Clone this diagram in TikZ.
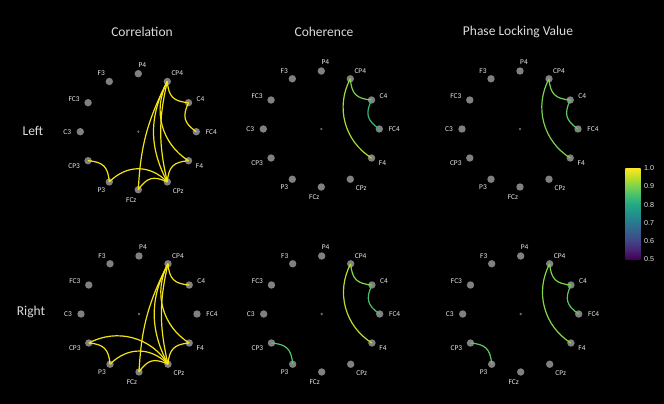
\documentclass[tikz,border=0pt]{standalone}
\usepackage{fontspec}
\setmainfont{Carlito}
\newfontfamily\tickfont{Liberation Sans}
\usetikzlibrary{calc}
\definecolor{vA}{HTML}{440154}
\definecolor{vB}{HTML}{482475}
\definecolor{vC}{HTML}{414487}
\definecolor{vD}{HTML}{355F8D}
\definecolor{vE}{HTML}{2A788E}
\definecolor{vF}{HTML}{21918C}
\definecolor{vG}{HTML}{22A884}
\definecolor{vH}{HTML}{44BF70}
\definecolor{vI}{HTML}{7AD151}
\definecolor{vJ}{HTML}{BDDF26}
\definecolor{vK}{HTML}{FDE725}
\definecolor{corrcol}{RGB}{245,228,20}
\definecolor{dotgray}{HTML}{808080}
\definecolor{txtgray}{HTML}{E6E6E6}
\pgfdeclareverticalshading{viridis}{100bp}{color(0bp)=(vA); color(25bp)=(vA); color(30bp)=(vB); color(35bp)=(vC); color(40bp)=(vD); color(45bp)=(vE); color(50bp)=(vF); color(55bp)=(vG); color(60bp)=(vH); color(65bp)=(vI); color(70bp)=(vJ); color(75bp)=(vK); color(100bp)=(vK)}
\tikzset{
  edot/.style={circle, fill=dotgray, inner sep=0pt, minimum size=7.4pt},
  cdot/.style={circle, fill=dotgray!120, inner sep=0pt, minimum size=2.6pt},
  lbl/.style={text=txtgray, font=\fontsize{7.4}{8}\selectfont, inner sep=0pt},
  ttl/.style={text=txtgray!95!black, font=\fontsize{13.5}{15}\selectfont, inner sep=0pt},
  tick/.style={text=txtgray, font=\tickfont\fontsize{7.2}{8}\selectfont, inner sep=0pt, anchor=west},
  edge/.style={line width=1.2pt},
  corr/.style={edge, draw=corrcol},
  s30/.style={bend right=40, looseness=1.3},
  s60/.style={bend right=45, looseness=1.1},
  s90/.style={bend right=43},
  s120/.style={bend right=28},
  s120b/.style={bend right=13},
  s150/.style={bend right=12},
}
\newcommand{\eegpanel}[3]{%
  \node[cdot] (#1-O) at (#2,#3) {};
  \foreach \nm/\ang/\dx/\dy in {P4/90/4/-9, CP4/60/10/-8, C4/30/12/-4, FC4/0/15/0, F4/-30/11/5, CPz/-60/11/9, FCz/-90/-7/10, P3/-120/-8/8, CP3/-150/-14/5, C3/180/-13/0, FC3/150/-14/-4, F3/120/-8/-8}{%
    \node[edot] (#1-\nm) at ({#2+58*cos(\ang)},{#3-58*sin(\ang)}) {};
    \node[lbl] (#1-\nm-l) at ({#2+58*cos(\ang)+\dx},{#3-58*sin(\ang)+\dy}) {\nm};
  }%
}
\begin{document}
\begin{tikzpicture}[x=1pt,y=-1pt]
\fill[black] (0,0) rectangle (664,404);
\useasboundingbox (0,0) rectangle (664,404);
% titles
\node[ttl] (t1) at (142,32) {Correlation};
\node[ttl] (t2) at (324,32) {Coherence};
\node[ttl] (t3) at (518,32) {Phase Locking Value};
\node[ttl] (rL) at (33,131) {Left};
\node[ttl] (rR) at (31,312) {Right};
% panels
\eegpanel{TL}{138.3}{131.7}
\eegpanel{TM}{321.3}{129}
\eegpanel{TR}{520}{129}
\eegpanel{BL}{139}{314}
\eegpanel{BM}{321.7}{314}
\eegpanel{BR}{520.7}{314}
% correlation left
\draw[corr,s30] (TL-CP4.center) to (TL-C4.center);
\draw[corr,s30] (TL-C4.center) to (TL-FC4.center);
\draw[corr,s90] (TL-CP4.center) to (TL-F4.center);
\draw[corr,s120] (TL-CP4.center) to (TL-CPz.center);
\draw[corr,s120b] (TL-CP4.center) to (TL-CPz.center);
\draw[corr,s150] (TL-CP4.center) to (TL-FCz.center);
\draw[corr,s30] (TL-F4.center) to (TL-CPz.center);
\draw[corr,s30] (TL-CPz.center) to (TL-FCz.center);
\draw[corr,s60] (TL-CPz.center) to (TL-P3.center);
\draw[corr,s30] (TL-P3.center) to (TL-CP3.center);
% correlation right
\draw[corr,s30] (BL-CP4.center) to (BL-C4.center);
\draw[corr,s90] (BL-CP4.center) to (BL-F4.center);
\draw[corr,s120] (BL-CP4.center) to (BL-CPz.center);
\draw[corr,s120b] (BL-CP4.center) to (BL-CPz.center);
\draw[corr,s150] (BL-CP4.center) to (BL-FCz.center);
\draw[corr,s30] (BL-F4.center) to (BL-CPz.center);
\draw[corr,s30] (BL-CPz.center) to (BL-FCz.center);
\draw[corr,s60] (BL-CPz.center) to (BL-P3.center);
\draw[corr,s90] (BL-CPz.center) to (BL-CP3.center);
\draw[corr,s30] (BL-P3.center) to (BL-CP3.center);
% coherence left
\draw[edge,s30,draw={rgb,255:red,122;green,209;blue,81}] (TM-CP4.center) to (TM-C4.center);
\draw[edge,s30,draw={rgb,255:red,53;green,183;blue,121}] (TM-C4.center) to (TM-FC4.center);
\draw[edge,s90,draw={rgb,255:red,165;green,219;blue,54}] (TM-CP4.center) to (TM-F4.center);
% coherence right
\draw[edge,s30,draw={rgb,255:red,134;green,213;blue,73}] (BM-CP4.center) to (BM-C4.center);
\draw[edge,s30,draw={rgb,255:red,74;green,193;blue,109}] (BM-C4.center) to (BM-FC4.center);
\draw[edge,s90,draw={rgb,255:red,184;green,222;blue,41}] (BM-CP4.center) to (BM-F4.center);
\draw[edge,s30,draw={rgb,255:red,84;green,197;blue,104}] (BM-P3.center) to (BM-CP3.center);
% PLV left
\draw[edge,s30,draw={rgb,255:red,110;green,206;blue,88}] (TR-CP4.center) to (TR-C4.center);
\draw[edge,s30,draw={rgb,255:red,94;green,201;blue,98}] (TR-C4.center) to (TR-FC4.center);
\draw[edge,s90,draw={rgb,255:red,122;green,209;blue,81}] (TR-CP4.center) to (TR-F4.center);
% PLV right
\draw[edge,s30,draw={rgb,255:red,122;green,209;blue,81}] (BR-CP4.center) to (BR-C4.center);
\draw[edge,s30,draw={rgb,255:red,94;green,201;blue,98}] (BR-C4.center) to (BR-FC4.center);
\draw[edge,s90,draw={rgb,255:red,134;green,213;blue,73}] (BR-CP4.center) to (BR-F4.center);
\draw[edge,s30,draw={rgb,255:red,94;green,201;blue,98}] (BR-P3.center) to (BR-CP3.center);
% colorbar
\node[draw=none, shading=viridis, minimum width=15.4pt, minimum height=90.7pt, inner sep=0pt] (cbar) at (633,213.65) {};
\node[tick] (k10) at (644,168.3) {1.0};
\node[tick] (k09) at (644,186.4) {0.9};
\node[tick] (k08) at (644,204.6) {0.8};
\node[tick] (k07) at (644,222.7) {0.7};
\node[tick] (k06) at (644,240.9) {0.6};
\node[tick] (k05) at (644,259) {0.5};
\end{tikzpicture}
\end{document}
